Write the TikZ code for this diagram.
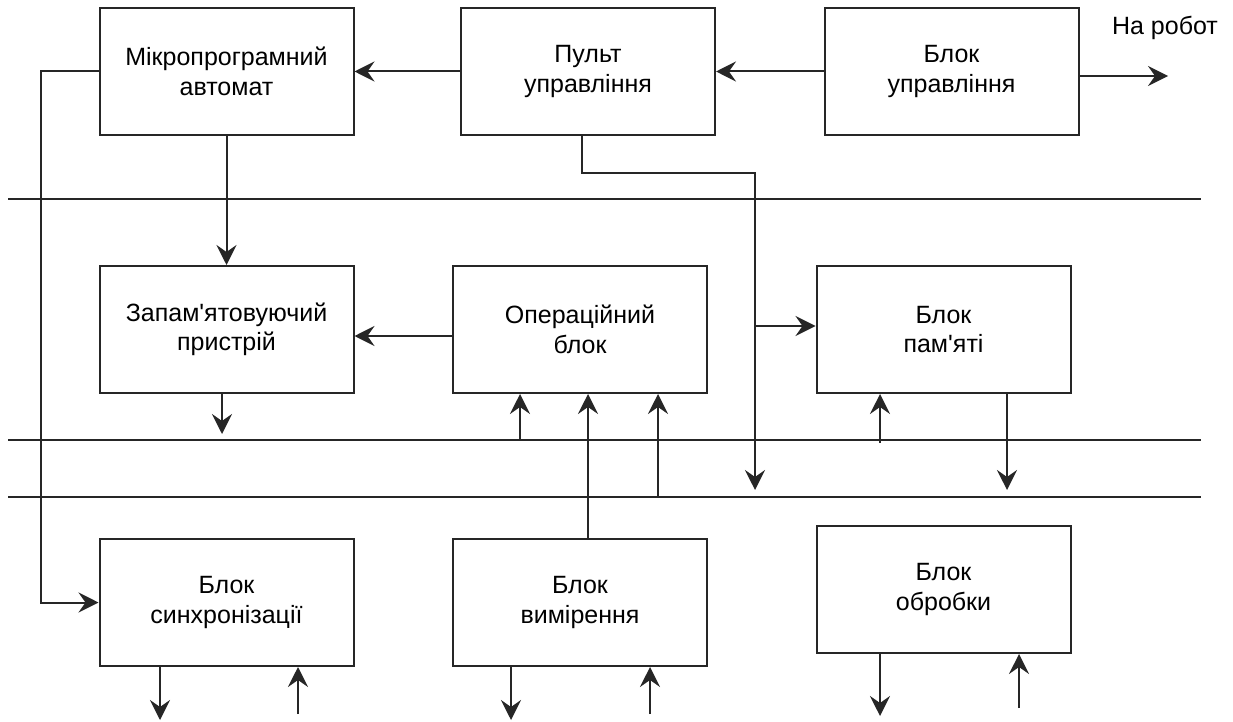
\documentclass[tikz,border=0pt]{standalone}
\usepackage{fontspec}
\setmainfont{Liberation Sans}
\usetikzlibrary{arrows.meta}
\begin{document}
\begin{tikzpicture}[x=1pt,y=-1pt,
  blk/.style={draw=black!85, line width=2pt, minimum width=254pt, minimum height=127pt,
    inner sep=0pt, align=center, font=\fontsize{25}{29.5}\selectfont},
  wire/.style={draw=black!85, line width=2pt},
  arr/.style={wire, -{Stealth[length=20pt,width=20pt,inset=7pt]}},
  lbl/.style={font=\fontsize{25}{29.5}\selectfont, inner sep=0pt}]
\useasboundingbox (0,0) rectangle (1233,722);

% blocks
\node[blk] (mikro) at (226.5,71.5) {Мікропрограмний\\автомат};
\node[blk] (pult)  at (588,71.5)   {Пульт\\управління};
\node[blk] (upr)   at (951.5,71.5) {Блок\\управління};
\node[blk] (zap)   at (226.5,329.5) {Запам\textquotesingle ятовуючий\\пристрій};
\node[blk] (op)    at (580,329.5)   {Операційний\\блок};
\node[blk] (pam)   at (943.5,329.5) {Блок\\пам\textquotesingle яті};
\node[blk] (sync)  at (226.5,602.5) {Блок\\синхронізації};
\node[blk] (vym)   at (580,602.5)   {Блок\\вимірення};
\node[blk] (obr)   at (943.5,589.5) {Блок\\обробки};
\node[lbl] (robottxt) at (1165,28) {На робот};

% buses
\coordinate (busA-l) at (8,199);   \coordinate (busA-r) at (1201,199);
\coordinate (busB-l) at (8,440);   \coordinate (busB-r) at (1201,440);
\coordinate (busC-l) at (8,497);   \coordinate (busC-r) at (1201,497);
\draw[wire] (busA-l) -- (busA-r);
\draw[wire] (busB-l) -- (busB-r);
\draw[wire] (busC-l) -- (busC-r);

% top row links
\draw[arr] (pult.west) -- (mikro.east);
\draw[arr] (upr.west) -- (pult.east);
\coordinate (robot) at (1168,76);
\draw[arr] (upr.east |- robot) -- (robot);

% micro-automaton to sync block along the left edge
\coordinate (lrail) at (41,0);
\draw[arr] (mikro.west) -- (mikro.west -| lrail) -- (sync.west -| lrail) -- (sync.west);
\draw[arr] (mikro.south) -- (zap.north);

% control panel down to memory and bus
\coordinate (pdrop) at (582,0);
\coordinate (pknee) at (755,173);
\coordinate (ptap)  at (755,326);
\coordinate (pend)  at (755,490);
\draw[arr] (pult.south -| pdrop) -- (pdrop |- pknee) -- (pknee) -- (pend);
\draw[arr] (ptap) -- (pam.west |- ptap);

% middle row
\draw[arr] ([yshift=-6.5pt]op.west) -- ([yshift=-6.5pt]zap.east);
\coordinate (zout) at (222,434);
\draw[arr] (zap.south -| zout) -- (zout);
\coordinate (op1) at (520,440);
\coordinate (op2) at (588,0);
\coordinate (op3) at (658,497);
\draw[arr] (op1) -- (op.south -| op1);
\draw[arr] (vym.north -| op2) -- (op.south -| op2);
\draw[arr] (op3) -- (op.south -| op3);
\coordinate (pin) at (880,443);
\coordinate (pout) at (1007,490);
\draw[arr] (pin) -- (pam.south -| pin);
\draw[arr] (pam.south -| pout) -- (pout);

% bottom row stubs
\coordinate (s1) at (160,720);  \coordinate (s2) at (298,714);
\draw[arr] (sync.south -| s1) -- (s1);
\draw[arr] (s2) -- (sync.south -| s2);
\coordinate (v1) at (511,720);  \coordinate (v2) at (650,714);
\draw[arr] (vym.south -| v1) -- (v1);
\draw[arr] (v2) -- (vym.south -| v2);
\coordinate (o1) at (880,716);  \coordinate (o2) at (1019,708);
\draw[arr] (obr.south -| o1) -- (o1);
\draw[arr] (o2) -- (obr.south -| o2);
\end{tikzpicture}
\end{document}
